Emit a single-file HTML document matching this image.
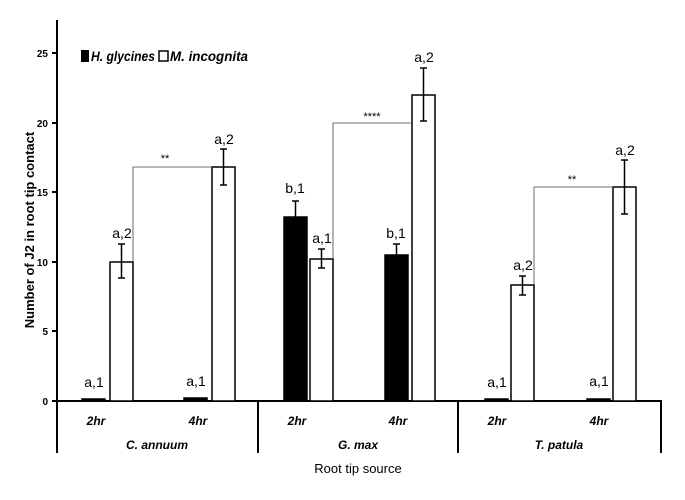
<!DOCTYPE html><html><head><style>body{margin:0;background:#fff}svg{display:block}</style></head><body>
<svg width="685" height="500" xmlns="http://www.w3.org/2000/svg" font-family="Liberation Sans, Arial, sans-serif">
<rect width="685" height="500" fill="#fff"/>
<g stroke="#000" stroke-width="2" fill="none">
<line x1="57" y1="20" x2="57" y2="402"/>
<line x1="56" y1="401" x2="662" y2="401"/>
<line x1="52" y1="401" x2="57" y2="401"/><line x1="52" y1="331" x2="57" y2="331"/><line x1="52" y1="262" x2="57" y2="262"/><line x1="52" y1="192" x2="57" y2="192"/><line x1="52" y1="123" x2="57" y2="123"/><line x1="52" y1="53" x2="57" y2="53"/>
<line x1="57" y1="401" x2="57" y2="453"/><line x1="258" y1="401" x2="258" y2="453"/><line x1="458" y1="401" x2="458" y2="453"/><line x1="661" y1="401" x2="661" y2="453"/>
</g>
<g font-size="10" font-weight="bold" text-anchor="end"><text x="48" y="405">0</text><text x="48" y="335">5</text><text x="48" y="266">10</text><text x="48" y="196">15</text><text x="48" y="127">20</text><text x="48" y="57">25</text></g>
<text transform="translate(34,230) rotate(-90)" font-size="13" font-weight="bold" text-anchor="middle">Number of J2 in root tip contact</text>
<g stroke="#000" stroke-width="1.5">
<rect x="82" y="399" width="23" height="2" fill="#000"/><rect x="110" y="262" width="23" height="139" fill="#fff"/>
<rect x="184" y="398" width="23" height="3" fill="#000"/><rect x="212" y="167" width="23" height="234" fill="#fff"/>
<rect x="284" y="217" width="23" height="184" fill="#000"/><rect x="310" y="259" width="23" height="142" fill="#fff"/>
<rect x="385" y="255" width="23" height="146" fill="#000"/><rect x="412" y="95" width="23" height="306" fill="#fff"/>
<rect x="485" y="399" width="23" height="2" fill="#000"/><rect x="511" y="285" width="23" height="116" fill="#fff"/>
<rect x="587" y="399" width="23" height="2" fill="#000"/><rect x="613" y="187" width="23" height="214" fill="#fff"/>
</g>
<g stroke="#000" stroke-width="1.5">
<path d="M121.5 244v34M118 244h7M118 278h7"/>
<path d="M223.5 149v36M220 149h7M220 185h7"/>
<path d="M295.5 201v32M292 201h7M292 233h7"/>
<path d="M321.5 249v19M318 249h7M318 268h7"/>
<path d="M396.5 244v23M393 244h7M393 267h7"/>
<path d="M423.5 68v53M420 68h7M420 121h7"/>
<path d="M522.5 276v19M519 276h7M519 295h7"/>
<path d="M624.5 160v54M621 160h7M621 214h7"/>
</g>
<g stroke="#444" stroke-width="0.8" fill="none">
<path d="M133 262V167H212"/><path d="M333 259V123H412"/><path d="M534 285V187H613"/>
</g>
<g font-size="11" text-anchor="middle"><text x="165" y="162">**</text><text x="372" y="120">****</text><text x="572" y="183">**</text></g>
<g font-size="14" text-anchor="middle">
<text x="94" y="387">a,1</text><text x="122" y="238">a,2</text>
<text x="196" y="386">a,1</text><text x="224" y="144">a,2</text>
<text x="295" y="193">b,1</text><text x="322" y="243">a,1</text>
<text x="396" y="238">b,1</text><text x="424" y="62">a,2</text>
<text x="497" y="387">a,1</text><text x="523" y="270">a,2</text>
<text x="599" y="386">a,1</text><text x="625" y="155">a,2</text>
</g>
<g font-size="12" font-weight="bold" font-style="italic" text-anchor="middle">
<text x="96" y="425">2hr</text><text x="198" y="425">4hr</text>
<text x="297" y="425">2hr</text><text x="398" y="425">4hr</text>
<text x="497" y="425">2hr</text><text x="599" y="425">4hr</text>
<text x="157" y="449">C. annuum</text><text x="358" y="449">G. max</text><text x="559" y="449">T. patula</text>
</g>
<text x="358" y="473" font-size="13" text-anchor="middle">Root tip source</text>
<rect x="81" y="50" width="8" height="12" fill="#000"/>
<rect x="159" y="51" width="9" height="10" fill="#fff" stroke="#000" stroke-width="1.5"/>
<g font-size="13.5" font-weight="bold" font-style="italic"><text x="91" y="61" textLength="64" lengthAdjust="spacingAndGlyphs">H. glycines</text><text x="170" y="61" textLength="78" lengthAdjust="spacingAndGlyphs">M. incognita</text></g>
</svg>
</body></html>
